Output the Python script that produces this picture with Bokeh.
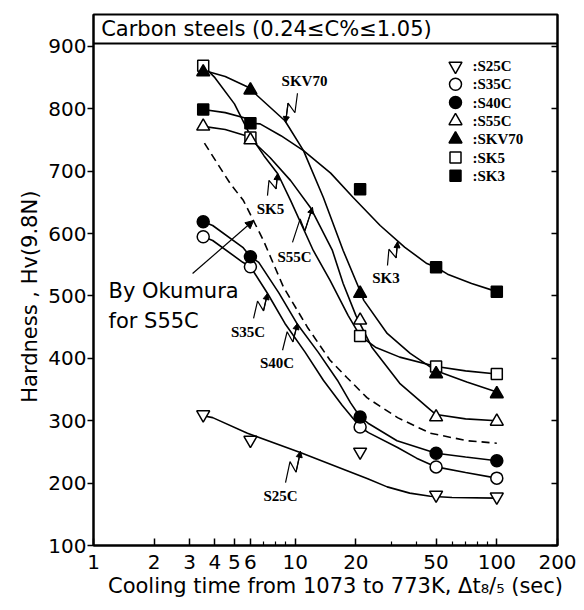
import math
from bokeh.plotting import figure
from bokeh.models import (Range1d, LinearAxis, FixedTicker, Span, Label,
                          Arrow, NormalHead)
from bokeh.embed import file_html
from bokeh.resources import INLINE

# ---------------- data ----------------
t_pts = [3.5, 6, 21, 50, 100]            # cooling time of the measured points (s)
hv_S25C = [310, 269, 250, 181, 178]
hv_S35C = [595, 547, 290, 226, 208]
hv_S40C = [619, 563, 306, 248, 236]
hv_S55C = [772, 750, 461, 306, 299]
hv_SKV70 = [859, 830, 504, 375, 343]
hv_SK5 = [869, 754, 436, 387, 375]
hv_SK3 = [799, 777, 671, 546, 507]

# hand-drawn fitting curves
cx_SKV70 = [3.5, 4.5, 6.0, 6.5, 8.9, 11.0, 13.8, 17.3, 21.0, 21.9, 28.6, 37.2, 50.0, 71.0, 100.0]
cy_SKV70 = [862, 852, 833, 821, 781, 733, 658, 573, 508, 493, 440, 408, 380, 362, 346]
cx_SK3 = [3.5, 4.5, 5.7, 6.0, 6.7, 8.5, 11.0, 15.0, 19.4, 26.4, 35.0, 45.0, 50.0, 57.0, 75.0, 100.0]
cy_SK3 = [799, 794, 785, 777, 776, 757, 733, 697, 658, 613, 578, 552, 546, 535, 520, 507]
cx_SK5 = [3.5, 4.0, 5.0, 6.0, 7.0, 8.2, 9.5, 12.3, 14.9, 18.3, 21.0, 25.0, 33.0, 50.0, 70.0, 100.0]
cy_SK5 = [869, 850, 808, 757, 725, 696, 653, 573, 525, 469, 436, 418, 402, 387, 380, 375]
cx_S55C = [3.5, 4.5, 5.7, 6.0, 7.5, 9.5, 11.9, 15.3, 17.3, 20.0, 24.0, 33.0, 47.0, 50.0, 70.0, 100.0]
cy_S55C = [772, 767, 757, 752, 722, 685, 642, 573, 520, 469, 418, 360, 317, 310, 303, 300]
cx_S40C = [3.5, 3.9, 5.5, 6.0, 6.6, 8.3, 10.2, 13.0, 16.2, 18.8, 21.0, 23.0, 32.0, 50.0, 70.0, 100.0]
cy_S40C = [619, 613, 578, 563, 554, 505, 456, 410, 365, 329, 306, 296, 268, 248, 242, 236]
cx_S35C = [3.5, 3.9, 5.5, 6.0, 7.3, 8.9, 11.2, 13.8, 17.1, 21.0, 23.1, 32.2, 40.0, 50.0, 70.0, 100.0]
cy_S35C = [595, 589, 554, 547, 504, 456, 410, 365, 325, 290, 281, 257, 240, 226, 217, 208]
cx_S25C = [3.5, 3.9, 5.8, 10.6, 18.1, 22.9, 28.6, 37.0, 46.8, 60.0, 100.0]
cy_S25C = [308, 305, 280, 249, 220, 207, 194, 184, 179, 177, 176]
cx_okumura = [3.55, 4.77, 5.54, 6.96, 8.76, 11.5, 14.9, 18.1, 22.7, 32.2, 46.8, 71.3, 100.0]
cy_okumura = [745, 680, 653, 589, 514, 450, 397, 369, 337, 305, 280, 268, 264]

x_ticks = [1, 2, 3, 4, 5, 6, 10, 20, 50, 100, 200]
x_minor = [7, 8, 9, 30, 40, 60, 70, 80, 90]
y_ticks = [100, 200, 300, 400, 500, 600, 700, 800, 900]

series_names = ["S25C", "S35C", "S40C", "S55C", "SKV70", "SK5", "SK3"]

# curve labels: (text, label x, label y, arrow tail x, tail y, arrow head x, head y)
curve_labels = [
    ("SKV70", 11.13, 845, 10.27, 825, 8.96, 778),
    ("SK5", 7.55, 639, 7.29, 661, 8.18, 696),
    ("S55C", 9.93, 563, 9.70, 586, 12.19, 642),
    ("SK3", 28.2, 529, 28.7, 549, 32.2, 587),
    ("S35C", 5.84, 443, 6.22, 464, 7.29, 504),
    ("S40C", 8.13, 393, 8.66, 413, 10.27, 456),
    ("S25C", 8.46, 179, 8.96, 201, 10.63, 251),
]

# ---------------- figure geometry ----------------
W, H = 584, 610
LEFT, RIGHT, TOP, BOTTOM = 93, 27, 14, 65
FW, FH = W - LEFT - RIGHT, H - TOP - BOTTOM
X0, X1 = 1, 200
Y0, Y1 = 100, 951.3
LX0, LX1 = math.log10(X0), math.log10(X1)


def to_px(x, y):
    return ((math.log10(x) - LX0) / (LX1 - LX0) * FW, (y - Y0) / (Y1 - Y0) * FH)


def to_data(px, py):
    return (10 ** (LX0 + px / FW * (LX1 - LX0)), Y0 + py / FH * (Y1 - Y0))


p = figure(width=W, height=H, x_axis_type="log",
           x_range=Range1d(X0, X1), y_range=Range1d(Y0, Y1),
           output_backend="svg", toolbar_location=None,
           min_border_left=LEFT, min_border_right=RIGHT,
           min_border_top=TOP, min_border_bottom=BOTTOM)
p.background_fill_color = "white"
p.border_fill_color = "white"
p.outline_line_color = "black"
p.outline_line_width = 2
p.xgrid.visible = False
p.ygrid.visible = False

SANS = "DejaVu Sans"
SERIF = "Liberation Serif"

xa = p.xaxis[0]
xa.ticker = FixedTicker(ticks=x_ticks, minor_ticks=x_minor)
xa.major_label_overrides = {t: str(t) for t in x_ticks}
xa.major_tick_in = 7
xa.major_tick_out = 0
xa.minor_tick_in = 4
xa.minor_tick_out = 0
xa.major_tick_line_width = 1.5
xa.minor_tick_line_width = 1.2
xa.axis_line_width = 2
xa.major_label_standoff = 9
xa.major_label_text_font = SANS
xa.major_label_text_font_size = "20px"
xa.major_label_text_color = "black"
xa.axis_label = "\u00a0\u00a0\u00a0Cooling time from 1073 to 773K, \u0394t\u2088/\u2085 (sec)"
xa.axis_label_text_font = SANS
xa.axis_label_text_font_size = "21px"
xa.axis_label_text_font_style = "normal"
xa.axis_label_text_color = "black"
xa.axis_label_standoff = 2

ya = p.yaxis[0]
ya.ticker = FixedTicker(ticks=y_ticks)
ya.major_tick_in = 0
ya.major_tick_out = 6
ya.minor_tick_line_color = None
ya.major_tick_line_width = 1.5
ya.axis_line_width = 2
ya.major_label_standoff = 1
ya.major_label_text_font = SANS
ya.major_label_text_font_size = "20px"
ya.major_label_text_color = "black"
ya.axis_label = "Hardness ,  Hv(9.8N)" + "\u00a0" * 4
ya.axis_label_text_font = SANS
ya.axis_label_text_font_size = "21px"
ya.axis_label_text_font_style = "normal"
ya.axis_label_text_color = "black"
ya.axis_label_standoff = 3

ra = LinearAxis(ticker=FixedTicker(ticks=y_ticks), major_tick_in=6, major_tick_out=0,
                minor_tick_line_color=None, axis_line_width=2, major_tick_line_width=1.5,
                major_label_text_color=None, major_label_text_font_size="1px",
                major_label_standoff=0)
p.add_layout(ra, "right")

# title box inside the frame
p.add_layout(Span(location=904.8, dimension="width", line_color="black", line_width=2))
p.add_layout(Label(x=1.092, y=928, text="Carbon steels (0.24\u2264C%\u22641.05)",
                   text_font=SANS, text_font_size="21px", text_color="black",
                   text_baseline="middle", text_align="left"))

# curves
LW = 1.6
for cx, cy in [(cx_SKV70, cy_SKV70), (cx_SK3, cy_SK3), (cx_SK5, cy_SK5), (cx_S55C, cy_S55C),
               (cx_S40C, cy_S40C), (cx_S35C, cy_S35C), (cx_S25C, cy_S25C)]:
    p.line(cx, cy, line_color="black", line_width=LW)
p.line(cx_okumura, cy_okumura, line_color="black", line_width=LW, line_dash="8 5")

# markers
ML = 1.5
styles = {
    "SK5": ("square", 11, "white"),
    "SK3": ("square", 11, "black"),
    "S35C": ("circle", 12, "white"),
    "S40C": ("circle", 12, "black"),
    "S25C": ("inverted_triangle", 13, "white"),
    "S55C": ("triangle", 13, "white"),
    "SKV70": ("triangle", 13, "black"),
}
values = {"S25C": hv_S25C, "S35C": hv_S35C, "S40C": hv_S40C, "S55C": hv_S55C,
          "SKV70": hv_SKV70, "SK5": hv_SK5, "SK3": hv_SK3}
for name in ["SK5", "SK3", "S35C", "S40C", "S25C", "S55C", "SKV70"]:
    mk, sz, fc = styles[name]
    p.scatter(t_pts, values[name], marker=mk, size=sz, fill_color=fc,
              line_color="black", line_width=ML)

# legend (drawn as key markers + labels in the upper right of the frame)
for i, name in enumerate(series_names):
    mk, sz, fc = styles[name]
    row_py = 545 - (65.5 + 18.3 * i)          # frame-relative, from the bottom
    kx, ky = to_data(455 - 93, row_py)
    lx, ly = to_data(472 - 93, row_py)
    p.scatter([kx], [ky], marker=mk, size=sz, fill_color=fc, line_color="black", line_width=ML)
    p.add_layout(Label(x=lx, y=ly, text=":" + name, text_font=SERIF, text_font_size="15px",
                       text_font_style="bold", text_color="black",
                       text_align="left", text_baseline="middle"))

# curve labels with zig-zag leader arrows
for text, lx, ly, tx, ty, hx, hy in curve_labels:
    p.add_layout(Label(x=lx, y=ly, text=text, text_font=SERIF, text_font_size="15px",
                       text_font_style="bold", text_color="black",
                       text_align="center", text_baseline="middle"))
    tpx, tpy = to_px(tx, ty)
    hpx, hpy = to_px(hx, hy)
    dx, dy = hpx - tpx, hpy - tpy
    L = math.hypot(dx, dy)
    nx, ny = -dy / L, dx / L
    w = 5.0
    p1 = to_data(tpx + 0.60 * dx + w * nx, tpy + 0.60 * dy + w * ny)
    p2 = to_data(tpx + 0.40 * dx - w * nx, tpy + 0.40 * dy - w * ny)
    p.line([tx, p1[0], p2[0], hx], [ty, p1[1], p2[1], hy], line_color="black", line_width=1.2)
    p.add_layout(Arrow(end=NormalHead(size=6, fill_color="black", line_color="black", line_width=1),
                       x_start=p2[0], y_start=p2[1], x_end=hx, y_end=hy,
                       line_color="black", line_width=1.2))

# Okumura annotation
p.add_layout(Label(x=1.187, y=508, text="By Okumura", text_font=SANS, text_font_size="21px",
                   text_color="black", text_baseline="middle"))
p.add_layout(Label(x=1.187, y=460, text=" for S55C", text_font=SANS, text_font_size="21px",
                   text_color="black", text_baseline="middle"))
p.add_layout(Arrow(end=NormalHead(size=8, fill_color="black", line_color="black", line_width=1),
                   x_start=3.10, y_start=536, x_end=6.22, y_end=621,
                   line_color="black", line_width=1.2))

open("out.html", "w").write(file_html(p, INLINE))
